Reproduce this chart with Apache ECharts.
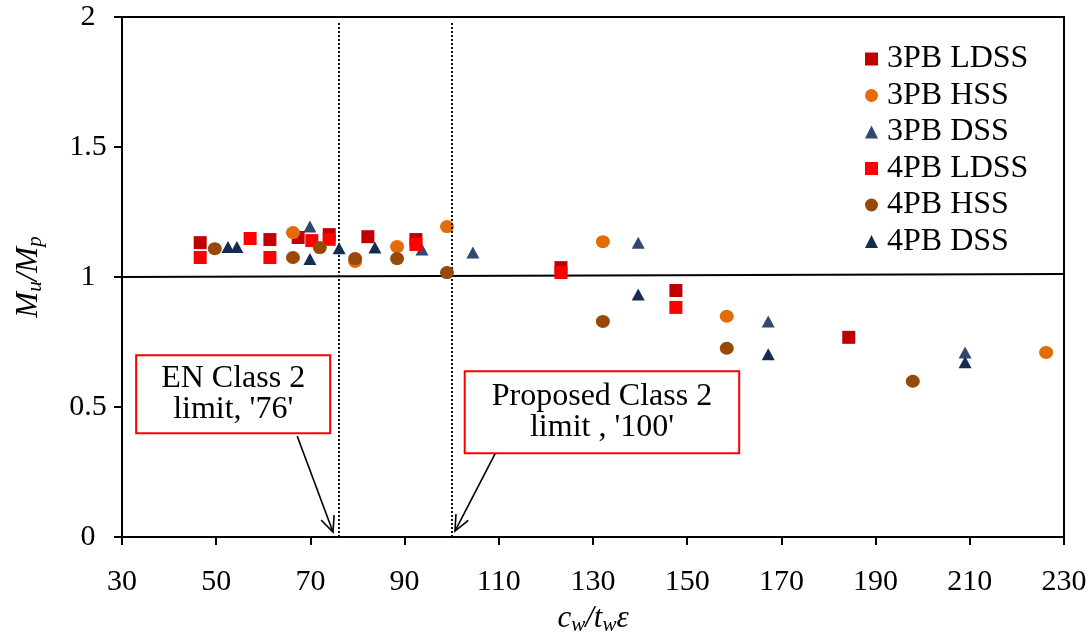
<!DOCTYPE html>
<html><head><meta charset="utf-8">
<script src="https://cdn.jsdelivr.net/npm/echarts@6/dist/echarts.min.js"></script>
<style>html,body{margin:0;padding:0;background:#fff}#c{width:1092px;height:641px}</style>
</head><body><div id="c"></div>
<script>
// ---- data (x = c_w/t_w·ε, y = M_u/M_p) ----
const seriesNames = ['3PB LDSS','3PB HSS','3PB DSS','4PB LDSS','4PB HSS','4PB DSS'];
const ldss3 = [[46.6,1.132],[61.4,1.144],[67.4,1.152],[74.0,1.163],[82.2,1.155],[92.4,1.144],[123.2,1.036],[147.6,0.948],[184.3,0.768]];
const hss3  = [[66.3,1.171],[79.5,1.060],[88.4,1.117],[99.0,1.194],[132.1,1.136],[158.4,0.849],[226.2,0.710]];
const dss3  = [[69.9,1.194],[93.7,1.106],[104.5,1.094],[139.6,1.132],[167.2,0.829],[209.0,0.710]];
const ldss4 = [[46.6,1.075],[57.2,1.148],[61.4,1.075],[70.3,1.140],[74.0,1.145],[92.4,1.125],[123.2,1.017],[147.6,0.883]];
const hss4  = [[49.7,1.109],[66.3,1.075],[72.0,1.113],[79.5,1.071],[88.4,1.071],[99.0,1.017],[132.1,0.829],[158.4,0.726],[197.9,0.599]];
const dss4  = [[52.5,1.115],[54.4,1.115],[69.9,1.069],[76.1,1.111],[83.7,1.113],[139.6,0.933],[167.2,0.703],[209.0,0.672]];
const limitValues = [76, 100];
const refLine = [[30,1.0],[230,1.012]];
const annotTexts = ["EN Class 2\nlimit, '76'", "Proposed Class 2\nlimit , '100'"];

const colors = ['#C00000','#E36C09','#2F4A6E','#FF0000','#984807','#152C52'];
const symbols = ['rect','circle','triangle','rect','circle','triangle'];
const sizes = [13,[14,13],[13,12],13,[14,13],[13,12]];
const allData = [ldss3,hss3,dss3,ldss4,hss4,dss4];
const FONT = 'Liberation Serif';

const chart = echarts.init(document.getElementById('c'));
const series = allData.map((d,i)=>({
  name: seriesNames[i], type:'scatter', data:d, symbol:symbols[i], symbolSize:sizes[i],
  itemStyle:{color:colors[i], opacity:1}, z: 3+i
}));
series.push({
  type:'scatter', data:[], silent:true, z:2,
  markLine:{silent:true, symbol:'none', label:{show:false}, animation:false,
    data:[
      [{coord:refLine[0], lineStyle:{color:'#000',width:2,type:'solid'}},{coord:refLine[1]}],
      [{coord:[limitValues[0],0], lineStyle:{color:'#111',width:2,type:[2,2]}},{coord:[limitValues[0],1.98]}],
      [{coord:[limitValues[1],0], lineStyle:{color:'#111',width:2,type:[2,2]}},{coord:[limitValues[1],1.98]}]
    ]}
});

chart.setOption({
  animation:false,
  grid:{left:122,right:28,top:17,bottom:103,show:true,borderColor:'#000',borderWidth:2,backgroundColor:'transparent'},
  xAxis:{type:'value',min:30,max:230,interval:20,
    axisLine:{lineStyle:{color:'#000',width:2}},
    axisTick:{inside:false,length:8,lineStyle:{color:'#000',width:2}},
    splitLine:{show:false},
    axisLabel:{fontFamily:FONT,fontSize:30,color:'#000',margin:30},
    name:'{i|c}{s|w}{i|/t}{s|w}{i|ε}', nameLocation:'middle', nameGap:64,
    nameTextStyle:{rich:{
      i:{fontFamily:FONT,fontStyle:'italic',fontSize:31,color:'#000'},
      s:{fontFamily:FONT,fontStyle:'italic',fontSize:21,color:'#000',padding:[14,0,0,0]}
    }}
  },
  yAxis:{type:'value',min:0,max:2,interval:0.5,
    axisLine:{lineStyle:{color:'#000',width:2}},
    axisTick:{inside:false,length:8,lineStyle:{color:'#000',width:2}},
    splitLine:{show:false},
    axisLabel:{fontFamily:FONT,fontSize:30,color:'#000',margin:34,align:'center'},
    name:'{i|M}{s|u}{i|/M}{s|p}', nameLocation:'middle', nameGap:76, nameRotate:90,
    nameTextStyle:{rich:{
      i:{fontFamily:FONT,fontStyle:'italic',fontSize:31,color:'#000'},
      s:{fontFamily:FONT,fontStyle:'italic',fontSize:21,color:'#000',padding:[14,0,0,0]}
    }}
  },
  legend:{orient:'vertical',left:860,top:38,itemWidth:13,itemHeight:13,itemGap:4.5,
    data:seriesNames.map((n,i)=>({name:n,icon:symbols[i]})),
    textStyle:{fontFamily:FONT,fontSize:32,color:'#000',lineHeight:32,padding:[0,0,0,4]}
  },
  series:series
});

// annotations (anchored in data coordinates)
function px(p){return chart.convertToPixel({gridIndex:0},p);}
function arrow(a,b){
  const p0=px(a), p1=px(b);
  const ang=Math.atan2(p1[1]-p0[1],p1[0]-p0[0]);
  const L=17, sp=0.42;
  const h1=[p1[0]-L*Math.cos(ang-sp), p1[1]-L*Math.sin(ang-sp)];
  const h2=[p1[0]-L*Math.cos(ang+sp), p1[1]-L*Math.sin(ang+sp)];
  return [
    {type:'polyline',shape:{points:[p0,p1]},style:{stroke:'#000',lineWidth:1.6,fill:null},z:20},
    {type:'polyline',shape:{points:[h1,p1,h2]},style:{stroke:'#000',lineWidth:1.6,fill:null},z:20}
  ];
}
function box(text,c,pad){
  const p=px(c);
  return {type:'text',x:p[0],y:p[1],z:20,style:{text:text,align:'center',verticalAlign:'middle',
    font:'32px "'+FONT+'"',fill:'#000',lineHeight:31,borderColor:'#FF0000',borderWidth:2,
    padding:pad,backgroundColor:'#fff'}};
}
const g=[];
g.push(box(annotTexts[0],[53.6,0.549],[7,24]));
g.push(box(annotTexts[1],[131.9,0.48],[9,26]));
g.push(...arrow([67.2,0.388],[74.8,0.019]));
g.push(...arrow([109.2,0.32],[100.7,0.023]));
chart.setOption({graphic:g});
</script></body></html>
